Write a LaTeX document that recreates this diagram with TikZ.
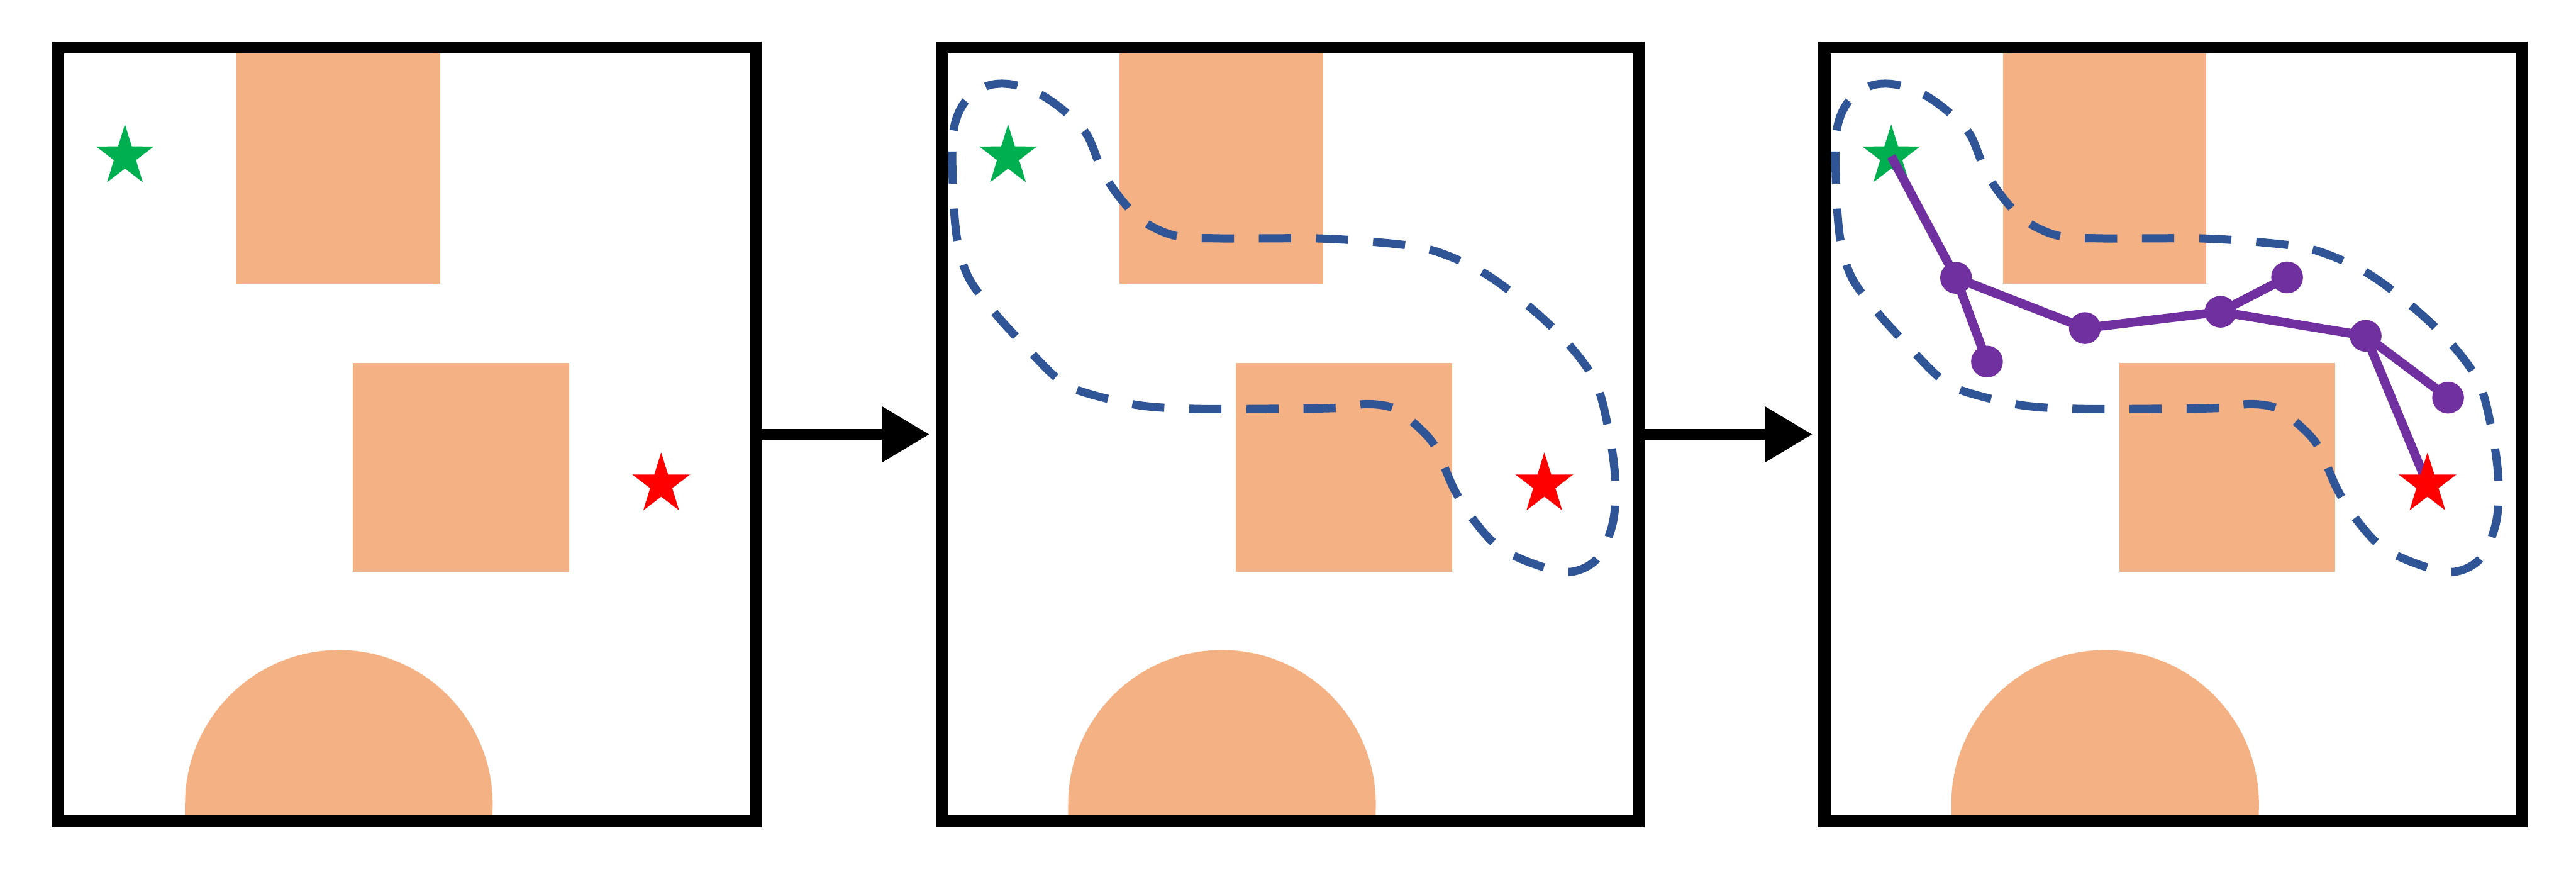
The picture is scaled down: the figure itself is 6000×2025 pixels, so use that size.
\documentclass[tikz,border=0pt]{standalone}
\usetikzlibrary{arrows.meta}
\definecolor{obstc}{HTML}{F4B183}
\definecolor{routec}{HTML}{2F5597}
\definecolor{gstarc}{HTML}{00B050}
\definecolor{rstarc}{HTML}{FF0000}
\definecolor{treec}{HTML}{7030A0}
\pgfdeclarelayer{back}
\pgfdeclarelayer{mid}
\pgfsetlayers{back,mid,main}
\tikzset{
  frame/.style={draw=black, line width=0.28cm, minimum width=16.23cm, minimum height=18.01cm, inner sep=0pt},
  obst/.style={fill=obstc},
  route/.style={draw=routec, line width=0.19cm, dash pattern=on 0.75cm off 0.58cm},
  treeedge/.style={draw=treec, line width=0.21cm},
  treedot/.style={circle, fill=treec, minimum size=0.74cm, inner sep=0pt},
  flow/.style={line width=0.245cm, -{Triangle[length=1.11cm,width=1.24cm]}, shorten >=0.14cm},
  pics/fivestar/.style={code={
    \fill[#1] (0,-74.5) -- (16.0,-23.1) -- (67.3,-23.0) -- (25.8,8.8) -- (41.6,60.3)
      -- (0,28.6) -- (-41.6,60.3) -- (-25.8,8.8) -- (-67.3,-23.0) -- (-16.0,-23.1) -- cycle;
  }}
}
\begin{document}
\begin{tikzpicture}[x=0.01cm,y=-0.01cm]
\useasboundingbox (0,0) rectangle (6000,2025);
% frames
\node[frame] (f1) at (947.5,1011.5) {};
\node[frame] (f2) at (3005,1011.5) {};
\node[frame] (f3) at (5061.5,1011.5) {};
\draw[flow] (f1.east) -- (f2.west);
\draw[flow] (f2.east) -- (f3.west);
% obstacles and stars in each panel
\foreach \i/\s in {1/0,2/2057,3/4114}{
  \begin{scope}[shift={(\s,0)}]
    \coordinate (g\i) at (291,364);
    \coordinate (r\i) at (1540,1128);
    \begin{pgfonlayer}{back}
      \fill[obst] (551,111) rectangle (1025,660);
      \fill[obst] (822,845) rectangle (1325,1331);
      \fill[obst] (431,1912) -- (431,1872) arc[start angle=180,end angle=0,radius=3.58cm] -- (1147,1912) -- cycle;
      \pic at (g\i) {fivestar=gstarc};
    \end{pgfonlayer}
    \pic at (r\i) {fivestar=rstarc};
  \end{scope}
}
% explored region (panels 2 and 3)
\foreach \s in {2057,4114}{
  \begin{scope}[shift={(\s,0)}, yscale=1.0129]
    \begin{pgfonlayer}{back}
      \draw[route] plot[smooth cycle, tension=0.55] coordinates {
        (162,415) (164,300) (190,235) (241,198) (299,194) (368,218) (430,262)
        (475,310) (505,380) (540,440) (600,505) (680,542) (780,548) (900,548)
        (1010,548) (1142,556) (1274,574) (1395,625) (1504,704) (1596,791)
        (1660,880) (1690,990) (1705,1100) (1700,1200) (1665,1282) (1607,1314)
        (1538,1304) (1440,1262) (1378,1199) (1330,1125) (1286,1027) (1240,976)
        (1188,938) (1125,929) (1056,938) (900,940) (723,940) (591,931)
        (459,899) (402,867) (330,795) (264,724) (200,640) (172,548)};
    \end{pgfonlayer}
  \end{scope}
}
% tree in panel 3
\begin{scope}[shift={(4114,0)}]
  \node[treedot] (n1) at (442,647) {};
  \node[treedot] (n2) at (514,842) {};
  \node[treedot] (n3) at (742,764) {};
  \node[treedot] (n4) at (1058,726) {};
  \node[treedot] (n5) at (1213,646) {};
  \node[treedot] (n6) at (1396,782) {};
  \node[treedot] (n7) at (1588,926) {};
\end{scope}
\begin{pgfonlayer}{mid}
  \draw[treeedge] (g3) -- (n1.center);
  \draw[treeedge] (n1.center) -- (n2.center);
  \draw[treeedge] (n1.center) -- (n3.center);
  \draw[treeedge] (n3.center) -- (n4.center);
  \draw[treeedge] (n4.center) -- (n5.center);
  \draw[treeedge] (n4.center) -- (n6.center);
  \draw[treeedge] (n6.center) -- (n7.center);
  \draw[treeedge] (n6.center) -- (r3);
\end{pgfonlayer}
\end{tikzpicture}
\end{document}
